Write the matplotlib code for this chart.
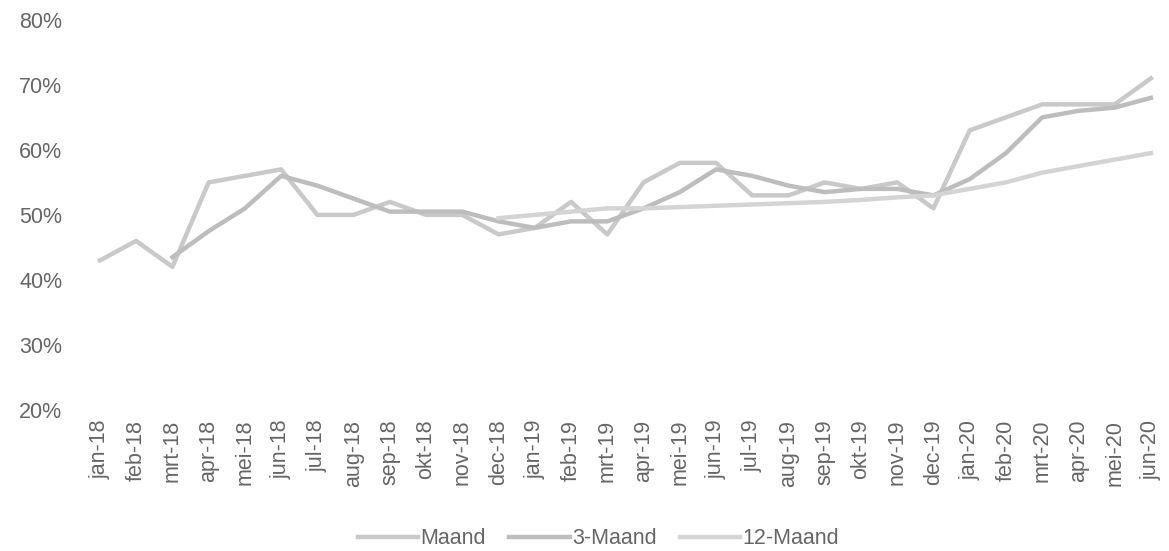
import matplotlib.pyplot as plt
from matplotlib.ticker import FuncFormatter

months = [
    "jan-18", "feb-18", "mrt-18", "apr-18", "mei-18", "jun-18", "jul-18", "aug-18",
    "sep-18", "okt-18", "nov-18", "dec-18", "jan-19", "feb-19", "mrt-19", "apr-19",
    "mei-19", "jun-19", "jul-19", "aug-19", "sep-19", "okt-19", "nov-19", "dec-19",
    "jan-20", "feb-20", "mrt-20", "apr-20", "mei-20", "jun-20",
]

maand = [
    43, 46, 42, 55, 56, 57, 50, 50, 52, 50, 50, 47, 48, 52, 47, 55,
    58, 58, 53, 53, 55, 54, 55, 51, 63, 65, 67, 67, 67, 71,
]

# 3-Maand starts at mrt-18
maand3 = [
    None, None, 43.5, 47.5, 51, 56, 54.5, 52.5, 50.5, 50.5, 50.5, 49, 48, 49, 49, 51,
    53.5, 57, 56, 54.5, 53.5, 54, 54, 53, 55.5, 59.5, 65, 66, 66.5, 68,
]

# 12-Maand starts at dec-18
maand12 = [None] * 11 + [
    49.5, 50, 50.5, 51, 51, 51.2, 51.4, 51.6, 51.8, 52, 52.3, 52.7, 53,
    54, 55, 56.5, 57.5, 58.5, 59.5,
]

series = [
    ("Maand", maand, "#c9c9c9"),
    ("3-Maand", maand3, "#bdbdbd"),
    ("12-Maand", maand12, "#d4d4d4"),
]

plt.rcParams["font.family"] = ["Liberation Sans", "DejaVu Sans"]

fig = plt.figure(figsize=(11.69, 5.51), dpi=100)
ax = fig.add_axes([0.070, 0.256, 0.930, 0.708])

x = list(range(len(months)))
for label, values, color in series:
    xs = [i for i, v in zip(x, values) if v is not None]
    ys = [v for v in values if v is not None]
    ax.plot(xs, ys, color=color, linewidth=3.2, label=label)

ax.set_xlim(-0.5, len(months) - 0.5)
ax.set_ylim(20, 80)
ax.set_yticks(range(20, 81, 10))
ax.yaxis.set_major_formatter(FuncFormatter(lambda v, _: f"{int(v)}%"))
ax.set_xticks(x)
ax.set_xticklabels(months, rotation=90)

for s in ax.spines.values():
    s.set_visible(False)
ax.tick_params(axis="both", length=0, labelsize=15.5, colors="#666666")
ax.tick_params(axis="y", pad=14)
ax.tick_params(axis="x", pad=7)

fig.legend(
    loc="lower center",
    bbox_to_anchor=(0.512, -0.032),
    ncol=3,
    frameon=False,
    fontsize=15.5,
    labelcolor="#666666",
    handlelength=2.8,
    handletextpad=0.1,
    columnspacing=1.1,
)

fig.savefig("out.png", dpi=100)
plt.close(fig)
